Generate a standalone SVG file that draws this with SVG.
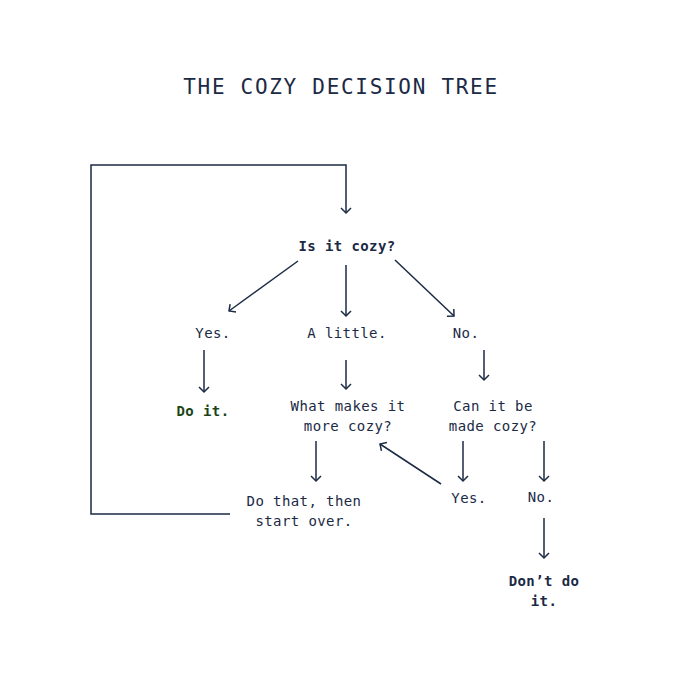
<svg xmlns="http://www.w3.org/2000/svg" width="681" height="681" viewBox="0 0 681 681">
<defs>
<marker id="ah" markerWidth="12" markerHeight="12" refX="6" refY="6" orient="auto" markerUnits="userSpaceOnUse" viewBox="0 0 12 12">
<path d="M1,1 L6,6 L1,11" fill="none" stroke="#1b2a45" stroke-width="1.5"/>
</marker>
<style>
.t{font-family:"DejaVu Sans Mono","Liberation Mono",monospace;font-size:14px;fill:#1b2a45;text-anchor:middle;letter-spacing:0.4px}
.b{font-weight:bold}
.g{fill:#1c4418}
.title{font-family:"DejaVu Sans Mono","Liberation Mono",monospace;font-size:21px;fill:#1b2a45;text-anchor:middle;letter-spacing:1.7px}
.c{fill:none;stroke:#1b2a45;stroke-width:1.5}
</style>
</defs>
<rect width="681" height="681" fill="#ffffff"/>
<text class="title" x="341" y="94">THE COZY DECISION TREE</text>
<g id="connectors">
<path class="c" d="M230,514 L91,514 L91,165 L346,165 L346,213" marker-end="url(#ah)"/>
<line class="c" x1="298" y1="261" x2="229" y2="311" marker-end="url(#ah)"/>
<line class="c" x1="346" y1="265" x2="346" y2="316" marker-end="url(#ah)"/>
<line class="c" x1="395" y1="260" x2="454" y2="316" marker-end="url(#ah)"/>
<line class="c" x1="204" y1="350" x2="204" y2="392" marker-end="url(#ah)"/>
<line class="c" x1="346" y1="360" x2="346" y2="389" marker-end="url(#ah)"/>
<line class="c" x1="484" y1="350" x2="484" y2="380" marker-end="url(#ah)"/>
<line class="c" x1="316" y1="441" x2="316" y2="481" marker-end="url(#ah)"/>
<line class="c" x1="463" y1="441" x2="463" y2="481" marker-end="url(#ah)"/>
<line class="c" x1="544" y1="441" x2="544" y2="481" marker-end="url(#ah)"/>
<line class="c" x1="441" y1="484" x2="380" y2="444" marker-end="url(#ah)"/>
<line class="c" x1="544" y1="518" x2="544" y2="558" marker-end="url(#ah)"/>
</g>
<g id="n-cozy"><text class="t b" x="347" y="251">Is it cozy?</text></g>
<g id="n-yes1"><text class="t" x="213" y="338">Yes.</text></g>
<g id="n-little"><text class="t" x="347" y="338">A little.</text></g>
<g id="n-no1"><text class="t" x="466" y="338">No.</text></g>
<g id="n-doit"><text class="t b g" x="203" y="416">Do it.</text></g>
<g id="n-what"><text class="t" x="348" y="411">What makes it</text><text class="t" x="348" y="431">more cozy?</text></g>
<g id="n-can"><text class="t" x="493" y="411">Can it be</text><text class="t" x="493" y="431">made cozy?</text></g>
<g id="n-dothat"><text class="t" x="304" y="506">Do that, then</text><text class="t" x="304" y="526">start over.</text></g>
<g id="n-yes2"><text class="t" x="469" y="503">Yes.</text></g>
<g id="n-no2"><text class="t" x="541" y="502">No.</text></g>
<g id="n-dont"><text class="t b" x="544" y="586">Don’t do</text><text class="t b" x="544" y="606">it.</text></g>
</svg>
